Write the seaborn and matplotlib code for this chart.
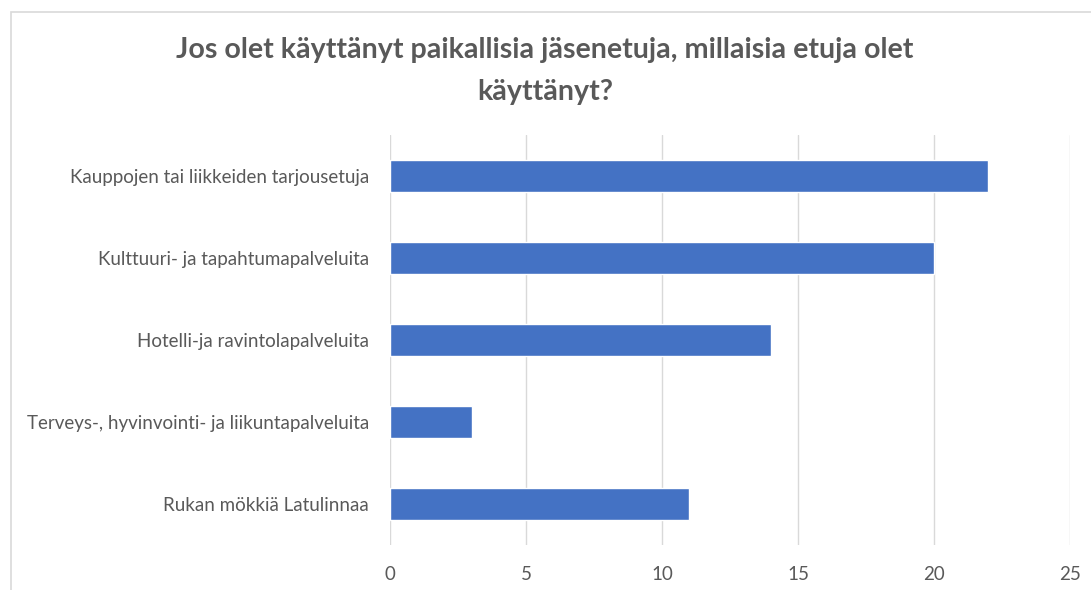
import matplotlib
matplotlib.use("Agg")
import matplotlib.pyplot as plt
import seaborn as sns
import pandas as pd
from matplotlib.patches import Rectangle

categories = [
    "Kauppojen tai liikkeiden tarjousetuja",
    "Kulttuuri- ja tapahtumapalveluita",
    "Hotelli-ja ravintolapalveluita",
    "Terveys-, hyvinvointi- ja liikuntapalveluita",
    "Rukan mökkiä Latulinnaa",
]
values = [22, 20, 14, 3, 11]
xticks = [0, 5, 10, 15, 20, 25]
title = "Jos olet käyttänyt paikallisia jäsenetuja, millaisia etuja olet\nkäyttänyt?"

sns.set_theme(style="white")
plt.rcParams["font.family"] = ["Lato", "DejaVu Sans"]

df = pd.DataFrame({"cat": categories, "val": values})

fig = plt.figure(figsize=(10.91, 5.90), dpi=100)
ax = fig.add_axes([390/1091, 1-545/590, 680/1091, 410/590])

sns.barplot(data=df, x="val", y="cat", orient="h", color="#4472C4",
            width=0.39, saturation=1, ax=ax, zorder=3)

ax.set_xlim(0, 25)
ax.set_xticks(xticks)
ax.set_xticklabels([str(t) for t in xticks])
ax.grid(axis="x", color="#d9d9d9", linewidth=1, zorder=0)
ax.grid(axis="y", visible=False)
for s in ax.spines.values():
    s.set_visible(False)
ax.set_xlabel("")
ax.set_ylabel("")
ax.tick_params(axis="both", length=0, colors="#595959")
ax.tick_params(axis="y", pad=15, labelsize=13.5)
ax.tick_params(axis="x", pad=15, labelsize=13.5)

fig.text(545/1091, 1-71/590, title, ha="center", va="center",
         fontsize=20.6, fontweight="bold", color="#595959", linespacing=1.8)

# chart frame
fig.patches.append(Rectangle((11/1091, -0.1), 1.2, 1.1 - 12/590,
                             transform=fig.transFigure, fill=False,
                             edgecolor="#d9d9d9", linewidth=1.2))

fig.savefig("out.png", dpi=100)
